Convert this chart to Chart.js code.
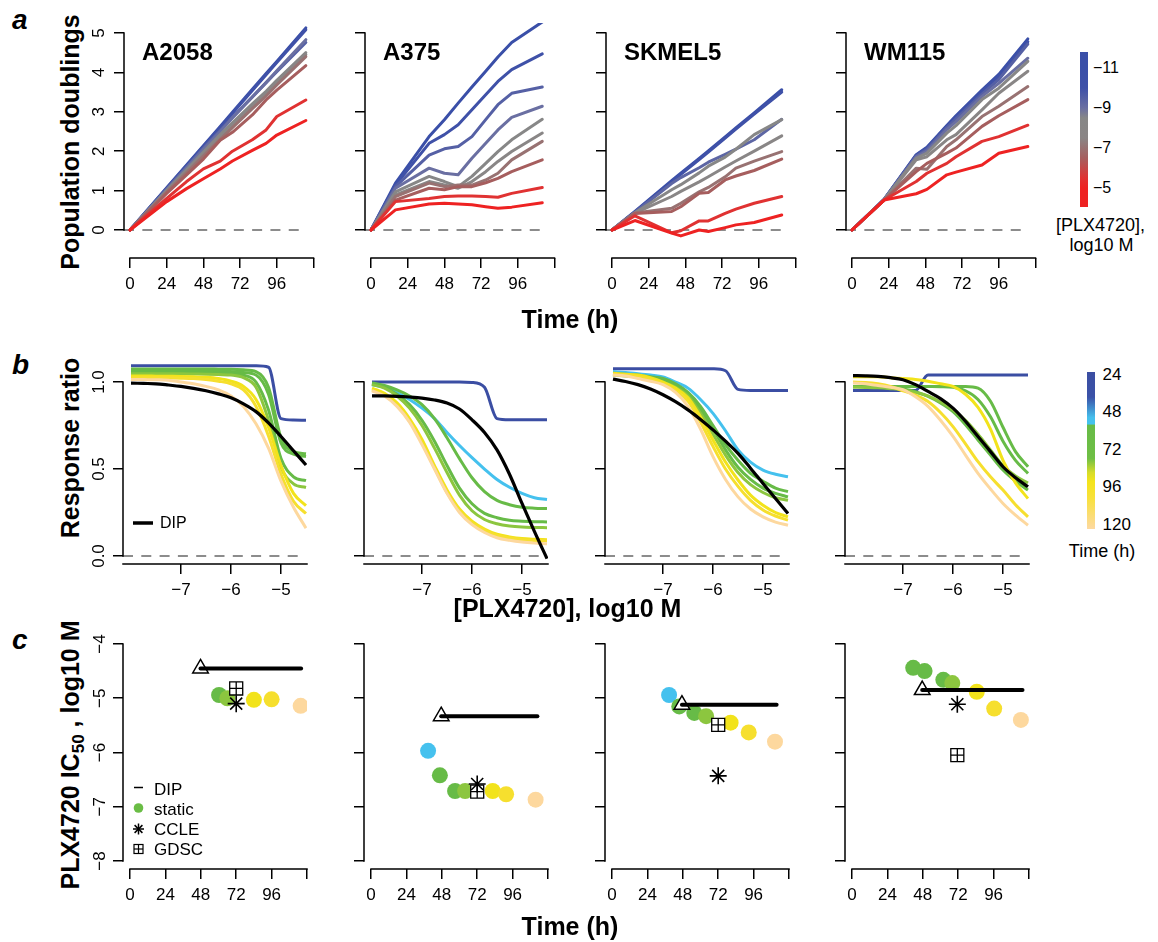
<!DOCTYPE html>
<html><head><meta charset="utf-8"><title>PLX4720 response</title>
<script src="https://cdn.jsdelivr.net/npm/chart.js@4.4.1/dist/chart.umd.min.js"></script>
<style>
html,body{margin:0;padding:0;background:#fff;}
body{width:1158px;height:942px;position:relative;overflow:hidden;font-family:"Liberation Sans",Arial,Helvetica,sans-serif;color:#000;}
canvas{position:absolute;}
.t{position:absolute;white-space:nowrap;line-height:1;color:#000;}
.bar{position:absolute;}
svg.ov{position:absolute;left:0;top:0;}
</style></head><body>
<script>
// ================= DATA =================
const cellLines = ['A2058', 'A375', 'SKMEL5', 'WM115'];

// ---- a: population doublings vs time, one line per PLX4720 concentration (log10 M)
const timeA2058 = [0, 24, 37, 48, 59, 67, 80, 89, 96, 115];
const concA2058 = [-11, -10, -9.5, -9, -8.5, -8, -7, -6.5, -5.5, -5];
const pdA2058 = [
  [0, 1.07, 1.65, 2.14, 2.63, 2.99, 3.57, 3.97, 4.28, 5.13],
  [0, 1.06, 1.63, 2.12, 2.60, 2.96, 3.54, 3.94, 4.25, 5.08],
  [0, 1.04, 1.60, 2.08, 2.53, 2.86, 3.38, 3.74, 4.02, 4.76],
  [0, 1.03, 1.58, 2.05, 2.50, 2.84, 3.37, 3.74, 4.04, 4.83],
  [0, 1.00, 1.53, 1.98, 2.42, 2.72, 3.20, 3.52, 3.80, 4.50],
  [0, 0.98, 1.50, 1.94, 2.38, 2.66, 3.14, 3.46, 3.75, 4.45],
  [0, 0.96, 1.46, 1.88, 2.30, 2.60, 3.08, 3.40, 3.68, 4.40],
  [0, 0.93, 1.40, 1.80, 2.28, 2.48, 2.92, 3.30, 3.55, 4.17],
  [0, 0.80, 1.23, 1.55, 1.75, 2.00, 2.29, 2.54, 2.88, 3.30],
  [0, 0.72, 1.05, 1.30, 1.55, 1.75, 2.02, 2.20, 2.41, 2.78]
];
const timeA375 = [0, 16, 38, 48, 57, 66, 75, 83, 92, 112];
const concA375 = [-11, -10, -9.5, -9, -8.5, -8, -7, -6.5, -5.5, -5];
const pdA375 = [
  [0, 1.19, 2.37, 2.80, 3.22, 3.63, 4.03, 4.39, 4.76, 5.28],
  [0, 1.14, 2.20, 2.42, 2.67, 3.05, 3.43, 3.77, 4.07, 4.47],
  [0, 1.10, 1.90, 2.06, 2.12, 2.37, 2.80, 3.18, 3.47, 3.63],
  [0, 1.06, 1.57, 1.44, 1.40, 1.82, 2.20, 2.54, 2.86, 3.14],
  [0, 0.97, 1.36, 1.23, 1.10, 1.36, 1.69, 1.99, 2.29, 2.81],
  [0, 0.89, 1.23, 1.14, 1.06, 1.23, 1.48, 1.74, 1.99, 2.46],
  [0, 0.85, 1.19, 1.10, 1.14, 1.14, 1.27, 1.44, 1.78, 2.25],
  [0, 0.76, 1.06, 1.02, 1.10, 1.10, 1.20, 1.31, 1.48, 1.78],
  [0, 0.72, 0.80, 0.85, 0.86, 0.86, 0.85, 0.83, 0.93, 1.08],
  [0, 0.51, 0.66, 0.68, 0.66, 0.64, 0.59, 0.55, 0.58, 0.69]
];
const timeSKMEL5 = [0, 15, 39, 45, 57, 63, 74, 81, 93, 111];
const concSKMEL5 = [-11, -10, -9.3, -8.5, -8, -7, -6.5, -5.5, -5];
const pdSKMEL5 = [
  [0, 0.47, 1.25, 1.44, 1.82, 2.01, 2.36, 2.59, 2.97, 3.56],
  [0, 0.46, 1.22, 1.41, 1.79, 1.98, 2.33, 2.56, 2.94, 3.50],
  [0, 0.45, 1.18, 1.33, 1.58, 1.72, 1.92, 2.05, 2.29, 2.81],
  [0, 0.44, 1.02, 1.15, 1.45, 1.62, 1.85, 2.05, 2.42, 2.80],
  [0, 0.43, 0.85, 0.98, 1.22, 1.35, 1.60, 1.75, 2.00, 2.39],
  [0, 0.43, 0.55, 0.68, 0.97, 1.08, 1.35, 1.57, 1.75, 1.99],
  [0, 0.42, 0.47, 0.59, 0.93, 0.95, 1.27, 1.37, 1.51, 1.80],
  [0, 0.36, -0.07, -0.02, 0.23, 0.23, 0.42, 0.53, 0.68, 0.85],
  [0, 0.24, -0.08, -0.15, 0.00, -0.04, 0.06, 0.13, 0.19, 0.38]
];
const timeWM115 = [0, 21, 42, 49, 62, 68, 85, 96, 115];
const concWM115 = [-11, -10, -9.5, -9, -8.5, -8, -7, -6.5, -5.5, -5];
const pdWM115 = [
  [0, 0.78, 1.91, 2.10, 2.65, 2.90, 3.55, 3.95, 4.85],
  [0, 0.78, 1.90, 2.08, 2.63, 2.88, 3.52, 3.90, 4.78],
  [0, 0.77, 1.88, 2.05, 2.60, 2.82, 3.45, 3.82, 4.72],
  [0, 0.77, 1.86, 2.00, 2.55, 2.75, 3.39, 3.72, 4.36],
  [0, 0.77, 1.82, 1.95, 2.46, 2.65, 3.31, 3.60, 4.28],
  [0, 0.76, 1.78, 1.86, 2.29, 2.42, 3.05, 3.47, 4.03],
  [0, 0.76, 1.57, 1.54, 2.12, 2.29, 2.88, 3.14, 3.64],
  [0, 0.76, 1.48, 1.69, 1.95, 2.08, 2.63, 2.90, 3.31],
  [0, 0.76, 1.23, 1.44, 1.69, 1.86, 2.25, 2.37, 2.66],
  [0, 0.76, 0.92, 1.03, 1.40, 1.47, 1.65, 1.95, 2.12]
];
const timeTicks = [0, 24, 48, 72, 96, 120];
const timeTickLabels = ['0', '24', '48', '72', '96', ''];
const pdTicks = [0, 1, 2, 3, 4, 5];
const pdTickLabels = ['0', '1', '2', '3', '4', '5'];

// ---- b: response ratio vs dose (log10 M), one curve per time point, plus DIP
const doseGrid = [-8, -7.75, -7.5, -7.25, -7, -6.75, -6.5, -6.25, -6, -5.75, -5.5, -5.25, -5, -4.75, -4.5];
const rrA2058 = [
  [1.094,1.094,1.094,1.094,1.094,1.094,1.094,1.094,1.094,1.094,1.093,1.085,0.790,0.782,0.780],
  [1.075,1.075,1.075,1.075,1.075,1.075,1.075,1.074,1.073,1.070,1.060,0.970,0.680,0.600,0.588],
  [1.065,1.065,1.065,1.065,1.065,1.065,1.064,1.063,1.060,1.055,1.040,0.930,0.650,0.585,0.572],
  [1.058,1.058,1.058,1.057,1.057,1.056,1.055,1.053,1.050,1.040,1.000,0.840,0.560,0.455,0.433],
  [1.048,1.048,1.048,1.047,1.047,1.046,1.045,1.043,1.040,1.025,0.970,0.780,0.510,0.415,0.394],
  [1.035,1.035,1.034,1.033,1.032,1.030,1.027,1.020,1.005,0.975,0.900,0.740,0.520,0.360,0.290],
  [1.025,1.025,1.024,1.023,1.022,1.020,1.015,1.005,0.990,0.955,0.860,0.690,0.470,0.315,0.244],
  [1.015,1.014,1.013,1.011,1.000,0.990,0.975,0.955,0.920,0.860,0.760,0.620,0.430,0.280,0.160]
];
const dipA2058 = [0.994,0.992,0.990,0.983,0.975,0.964,0.950,0.932,0.910,0.875,0.830,0.765,0.687,0.605,0.523];
const rrA375 = [
  [1.000,1.000,1.000,1.000,1.000,1.000,1.000,1.000,0.998,0.970,0.790,0.783,0.783,0.783,0.783],
  [0.985,0.970,0.940,0.900,0.850,0.790,0.710,0.635,0.565,0.500,0.440,0.395,0.360,0.335,0.325],
  [0.995,0.980,0.955,0.920,0.870,0.790,0.680,0.560,0.450,0.370,0.320,0.295,0.280,0.275,0.273],
  [0.990,0.970,0.930,0.870,0.780,0.660,0.520,0.390,0.300,0.245,0.220,0.205,0.200,0.197,0.196],
  [0.985,0.965,0.920,0.850,0.750,0.620,0.480,0.350,0.260,0.210,0.185,0.172,0.166,0.164,0.163],
  [0.965,0.935,0.880,0.790,0.670,0.520,0.380,0.270,0.200,0.155,0.125,0.110,0.100,0.096,0.094],
  [0.955,0.925,0.865,0.775,0.650,0.505,0.365,0.260,0.190,0.148,0.118,0.103,0.094,0.089,0.087],
  [0.950,0.920,0.860,0.770,0.640,0.500,0.360,0.250,0.180,0.135,0.105,0.090,0.080,0.074,0.070]
];
const dipA375 = [0.921,0.920,0.918,0.914,0.908,0.897,0.879,0.845,0.783,0.710,0.610,0.470,0.302,0.140,-0.015];
const rrSKMEL5 = [
  [1.077,1.077,1.077,1.077,1.077,1.077,1.077,1.077,1.076,1.065,0.958,0.952,0.952,0.952,0.952],
  [1.060,1.055,1.048,1.040,1.030,1.000,0.965,0.900,0.820,0.720,0.610,0.540,0.494,0.470,0.456],
  [1.050,1.045,1.040,1.030,1.020,0.990,0.940,0.860,0.750,0.640,0.550,0.475,0.430,0.390,0.370],
  [1.045,1.040,1.035,1.025,1.010,0.980,0.930,0.840,0.730,0.610,0.510,0.440,0.390,0.360,0.340],
  [1.040,1.035,1.030,1.020,1.000,0.970,0.920,0.820,0.700,0.580,0.480,0.410,0.365,0.335,0.320],
  [1.050,1.045,1.040,1.025,1.000,0.965,0.910,0.800,0.667,0.540,0.437,0.350,0.292,0.250,0.225],
  [1.045,1.040,1.030,1.015,0.990,0.950,0.890,0.770,0.630,0.500,0.400,0.320,0.265,0.230,0.206],
  [1.040,1.035,1.020,1.005,0.985,0.940,0.860,0.730,0.571,0.440,0.340,0.270,0.225,0.195,0.177]
];
const dipSKMEL5 = [1.017,1.003,0.985,0.960,0.927,0.887,0.840,0.785,0.725,0.660,0.590,0.505,0.417,0.330,0.244];
const rrWM115 = [
  [0.952,0.952,0.952,0.952,0.952,0.952,1.040,1.040,1.040,1.040,1.040,1.040,1.040,1.040,1.040],
  [0.975,0.975,0.975,0.975,0.975,0.975,0.975,0.975,0.975,0.975,0.965,0.890,0.740,0.600,0.513],
  [0.975,0.975,0.975,0.975,0.975,0.975,0.974,0.973,0.970,0.950,0.900,0.800,0.660,0.550,0.475],
  [0.975,0.974,0.972,0.967,0.960,0.945,0.917,0.880,0.830,0.755,0.667,0.580,0.494,0.430,0.379],
  [0.970,0.969,0.967,0.962,0.955,0.940,0.920,0.885,0.840,0.780,0.700,0.610,0.520,0.460,0.420],
  [1.030,1.030,1.030,1.025,1.020,1.015,1.005,0.990,0.975,0.930,0.855,0.730,0.550,0.420,0.330],
  [1.000,0.998,0.990,0.975,0.950,0.925,0.888,0.825,0.744,0.645,0.542,0.455,0.379,0.295,0.225],
  [0.994,0.990,0.980,0.970,0.956,0.915,0.860,0.780,0.687,0.580,0.475,0.385,0.302,0.235,0.177]
];
const dipWM115 = [1.037,1.036,1.033,1.025,1.013,0.985,0.946,0.905,0.850,0.775,0.687,0.600,0.513,0.450,0.398];
const doseTicks = [-7, -6, -5];
const doseTickLabels = ['\u22127', '\u22126', '\u22125'];
const rrTicks = [0, 0.5, 1];
const rrTickLabels = ['0.0', '0.5', '1.0'];

// ---- c: IC50 (log10 M) vs time
const staticTimeA2058 = [60.4, 66, 84, 96, 115.7];
const staticIc50A2058 = [-4.94, -5.00, -5.03, -5.02, -5.14];
const staticTimeA375 = [38.7, 46.7, 57, 63.8, 82.5, 91.6, 111.6];
const staticIc50A375 = [-5.97, -6.42, -6.71, -6.71, -6.71, -6.77, -6.87];
const staticTimeSKMEL5 = [38.7, 45.6, 55.8, 63.8, 80.4, 92.7, 110.5];
const staticIc50SKMEL5 = [-4.94, -5.15, -5.27, -5.33, -5.45, -5.63, -5.80];
const staticTimeWM115 = [41.5, 49.2, 61.9, 68, 84.6, 96.4, 114.5];
const staticIc50WM115 = [-4.44, -4.50, -4.66, -4.72, -4.88, -5.19, -5.40];
const dipIc50 = [-4.45, -5.33, -5.12, -4.85];
const dipStartTime = [47.8, 47.6, 47.4, 47.6];
const dipEndTime = [116, 112.8, 111.6, 115.6];
const ccleTime = [72, 72, 72, 71.4];
const ccleIc50 = [-5.10, -6.58, -6.43, -5.11];
const gdscTime = [72, 72, 72, 71.4];
const gdscIc50 = [-4.82, -6.72, -5.49, -6.05];
const ic50Ticks = [-8, -7, -6, -5, -4];
const ic50TickLabels = ['\u22128', '\u22127', '\u22126', '\u22125', '\u22124'];

// ================= STYLE =================
const FONT = '"Liberation Sans", Arial, Helvetica, sans-serif';
Chart.defaults.font.family = FONT;
Chart.defaults.color = '#000';
const colX = [0, 241, 482, 722];
const C = {db:'#3b4ea3', lb:'#45c1ee', g1:'#67bb47', g2:'#8cc63f', y1:'#f2e31b', y2:'#f6df2e', pe:'#fdd89e'};
const rrColors = [
  [C.db, C.g1, C.g1, C.g1, C.g2, C.y1, C.y2, C.pe],
  [C.db, C.lb, C.g1, C.g1, C.g2, C.y1, C.y2, C.pe],
  [C.db, C.lb, C.g1, C.g1, C.g2, C.y1, C.y2, C.pe],
  [C.db, C.g1, C.g1, C.g1, C.g2, C.y1, C.y2, C.pe]
];
const staticColors = [
  [C.g1, C.g2, C.y1, C.y2, C.pe],
  [C.lb, C.g1, C.g1, C.g2, C.y1, C.y2, C.pe],
  [C.lb, C.g1, C.g1, C.g2, C.y1, C.y2, C.pe],
  [C.g1, C.g1, C.g1, C.g2, C.y1, C.y2, C.pe]
];
const concStops = [[-11,'#3a4fa8'],[-10,'#3f51a8'],[-9,'#6a6fa2'],[-8.5,'#878787'],[-7.5,'#8a8585'],[-6.5,'#a65e5e'],[-5.5,'#e03232'],[-5,'#ee2222']];

function rgb(h){return [parseInt(h.slice(1,3),16),parseInt(h.slice(3,5),16),parseInt(h.slice(5,7),16)];}
function ramp(stops, v){
  if (v <= stops[0][0]) return stops[0][1];
  for (let i = 1; i < stops.length; i++) {
    if (v <= stops[i][0]) {
      const f = (v - stops[i-1][0]) / (stops[i][0] - stops[i-1][0]);
      const a = rgb(stops[i-1][1]), b = rgb(stops[i][1]);
      return 'rgb(' + a.map((x, j) => Math.round(x + (b[j] - x) * f)).join(',') + ')';
    }
  }
  return stops[stops.length-1][1];
}

const rAxes = {
  id: 'rAxes',
  afterDraw(chart, args, opts) {
    const ctx = chart.ctx, a = chart.chartArea, xs = chart.scales.x, ys = chart.scales.y;
    ctx.save(); ctx.strokeStyle = '#000'; ctx.lineWidth = 1.5;
    ctx.beginPath();
    const x0 = opts.xFull ? a.left : xs.getPixelForValue(xs.ticks[0].value);
    const x1 = opts.xFull ? a.right : xs.getPixelForValue(xs.ticks[xs.ticks.length-1].value);
    ctx.moveTo(x0 - 0.75, a.bottom); ctx.lineTo(x1 + 0.75, a.bottom);
    ctx.moveTo(a.left, ys.getPixelForValue(ys.ticks[0].value) + 0.75);
    ctx.lineTo(a.left, ys.getPixelForValue(ys.ticks[ys.ticks.length-1].value) - 0.75);
    ctx.stroke(); ctx.restore();
  }
};
const gridOpt = {display:true, drawOnChartArea:false, drawTicks:true, tickLength:10, color:'#000', lineWidth:1.5};
function xAxis(min, max, ticks, labels, height){
  return {type:'linear', position:'bottom', min, max, bounds:'data',
    afterBuildTicks: s => { s.ticks = ticks.map(v => ({value:v})); },
    afterFit: s => { s.height = height; },
    ticks:{autoSkip:false, maxRotation:0, minRotation:0, padding:6, color:'#000', font:{family:FONT, size:17}, callback:(v,i)=>labels[i]},
    grid:gridOpt, border:{display:false}};
}
function yAxis(min, max, ticks, labels, width, pad){
  return {type:'linear', position:'left', min, max, bounds:'data',
    afterBuildTicks: s => { s.ticks = ticks.map(v => ({value:v})); },
    afterFit: s => { s.width = width; },
    ticks:{autoSkip:false, minRotation:90, maxRotation:90, crossAlign:'center', padding:pad, color:'#000', font:{family:FONT, size:17}, callback:(v,i)=>labels[i]},
    grid:gridOpt, border:{display:false}};
}
function mount(left, top, w, h){
  const c = document.createElement('canvas');
  c.width = w; c.height = h;
  c.style.left = left + 'px'; c.style.top = top + 'px'; c.style.width = w + 'px'; c.style.height = h + 'px';
  document.body.appendChild(c); return c;
}
function opts(scales, padding, xFull){
  return {responsive:false, maintainAspectRatio:false, animation:false, devicePixelRatio:1, events:[],
    layout:{autoPadding:false, padding}, plugins:{legend:{display:false}, tooltip:{enabled:false}, rAxes:{xFull}}, scales};
}
const pts = (xs, ys) => xs.map((x, i) => ({x, y: ys[i]}));
const noLabels = arr => arr.map(() => '');

// ================= ROW a =================
const growth = [
  {t:timeA2058, pd:pdA2058, conc:concA2058},
  {t:timeA375, pd:pdA375, conc:concA375},
  {t:timeSKMEL5, pd:pdSKMEL5, conc:concSKMEL5},
  {t:timeWM115, pd:pdWM115, conc:concWM115}
];
growth.forEach((g, k) => {
  const ds = [];
  for (let i = g.pd.length - 1; i >= 0; i--) {
    ds.push({data: pts(g.t, g.pd[i]), borderColor: ramp(concStops, g.conc[i]), borderWidth:3, pointRadius:0,
      borderCapStyle:'round', borderJoinStyle:'round', tension:0});
  }
  ds.push({data: pts([-3.9, g.t[g.t.length-1]], [0, 0]), borderColor:'#8c8c8c', borderWidth:2, borderDash:[10, 8.3], pointRadius:0});
  new Chart(mount(colX[k] + 89, 0, 240, 310), {type:'line', data:{datasets:ds},
    options: opts({x: xAxis(-3.92, 120, timeTicks, timeTickLabels, 52),
                   y: yAxis(-0.711, 5.254, pdTicks, k === 0 ? pdTickLabels : noLabels(pdTicks), 35, 10.3)},
                  {left:0, right:15.5, top:23, bottom:0}, false),
    plugins:[rAxes]});
});

// ================= ROW b =================
const resp = [
  {rr:rrA2058, dip:dipA2058}, {rr:rrA375, dip:dipA375}, {rr:rrSKMEL5, dip:dipSKMEL5}, {rr:rrWM115, dip:dipWM115}
];
resp.forEach((r, k) => {
  const ds = [{data: pts(doseGrid, r.dip), borderColor:'#000', borderWidth:3.2, pointRadius:0, cubicInterpolationMode:'monotone'}];
  for (let i = r.rr.length - 1; i >= 0; i--) {
    ds.push({data: pts(doseGrid, r.rr[i]), borderColor: rrColors[k][i], borderWidth:3, pointRadius:0, cubicInterpolationMode:'monotone'});
  }
  ds.push({data: pts([-8.16, -4.5], [0, 0]), borderColor:'#8c8c8c', borderWidth:2, borderDash:[10, 8.3], pointRadius:0});
  new Chart(mount(colX[k] + 89, 330, 240, 274), {type:'line', data:{datasets:ds},
    options: opts({x: xAxis(-8.16, -4.48, doseTicks, doseTickLabels, 40),
                   y: yAxis(-0.046, 1.121, rrTicks, k === 0 ? rrTickLabels : noLabels(rrTicks), 34, 2.2)},
                  {left:0, right:22, top:31, bottom:0}, true),
    plugins:[rAxes]});
});

// ================= ROW c =================
const ic = [
  {t:staticTimeA2058, v:staticIc50A2058}, {t:staticTimeA375, v:staticIc50A375},
  {t:staticTimeSKMEL5, v:staticIc50SKMEL5}, {t:staticTimeWM115, v:staticIc50WM115}
];
ic.forEach((s, k) => {
  const ds = [
    {data: pts([dipStartTime[k], dipEndTime[k]], [dipIc50[k], dipIc50[k]]), borderColor:'#000', borderWidth:4, pointRadius:0, borderCapStyle:'round'},
    {data: pts([dipStartTime[k]], [dipIc50[k]]), showLine:false, pointStyle:'triangle', pointRadius:9, pointBackgroundColor:'#fff', pointBorderColor:'#000', pointBorderWidth:1.5},
    {data: pts([ccleTime[k]], [ccleIc50[k]]), showLine:false, pointStyle:'star', pointRadius:8.5, pointBorderColor:'#000', pointBorderWidth:1.6},
    {data: pts([gdscTime[k]], [gdscIc50[k]]), showLine:false, pointStyle:'cross', pointRadius:6.5, pointBorderColor:'#000', pointBorderWidth:1.3},
    {data: pts([gdscTime[k]], [gdscIc50[k]]), showLine:false, pointStyle:'rect', pointRadius:9.2, pointBackgroundColor:'#fff', pointBorderColor:'#000', pointBorderWidth:1.3},
    {data: pts(s.t, s.v), showLine:false, pointStyle:'circle', pointRadius:8, pointBorderWidth:0, pointBackgroundColor: staticColors[k]}
  ];
  new Chart(mount(colX[k] + 89, 606, 240, 314), {type:'line', data:{datasets:ds},
    options: opts({x: xAxis(-4.75, 120, timeTicks, timeTickLabels, 51),
                   y: yAxis(-8.147, -3.853, ic50Ticks, k === 0 ? ic50TickLabels : noLabels(ic50Ticks), 34, 3.3)},
                  {left:0, right:22, top:30, bottom:0}, false),
    plugins:[rAxes]});
});

// ================= TEXT =================
function text(str, x, base, size, o = {}){
  const d = document.createElement('div'); d.className = 't'; d.innerHTML = str;
  d.style.fontSize = size + 'px';
  if (o.bold) d.style.fontWeight = 'bold';
  if (o.italic) d.style.fontStyle = 'italic';
  if (o.rot) {
    d.style.left = (base - 0.3465 * size) + 'px';
    d.style.top = x + 'px';
    d.style.transform = 'translate(-50%,-50%) rotate(-90deg)';
  } else {
    d.style.top = (base - 0.8465 * size) + 'px';
    d.style.left = x + 'px';
    if (o.center) d.style.transform = 'translateX(-50%)';
  }
  document.body.appendChild(d);
}
text('a', 12, 30, 28, {bold:true, italic:true});
text('b', 12, 375, 28, {bold:true, italic:true});
text('c', 12, 650, 28, {bold:true, italic:true});
cellLines.forEach((n, k) => text(n, colX[k] + 142, 60, 24, {bold:true}));
text('Population doublings', 141.5, 78.5, 25, {bold:true, rot:true});
text('Time (h)', 570, 328, 25, {bold:true, center:true});
text('Response ratio', 447.5, 78.5, 25, {bold:true, rot:true});
text('[PLX4720], log10 M', 567.5, 617, 25, {bold:true, center:true});
text('PLX4720 IC<sub style="font-size:0.68em;vertical-align:-0.3em;line-height:0">50</sub> , log10 M', 755, 78.5, 25, {bold:true, rot:true});
text('Time (h)', 570, 935, 25, {bold:true, center:true});
// colorbar a
[['\u221211', 74], ['\u22129', 114], ['\u22127', 154], ['\u22125', 194]].forEach(([s, y]) => text(s, 1093, y, 16));
text('[PLX4720],', 1100.5, 231, 18, {center:true});
text('log10 M', 1101.5, 251, 18, {center:true});
// colorbar b
[['24', 380], ['48', 417], ['72', 455], ['96', 492], ['120', 530]].forEach(([s, y]) => text(s, 1102.5, y, 17));
text('Time (h)', 1102, 557, 18, {center:true});
// legends
text('DIP', 160, 529, 16);
[['DIP', 795], ['static', 815], ['CCLE', 835], ['GDSC', 855]].forEach(([s, y]) => text(s, 154, y, 17));

// colorbars
const cbA = document.createElement('div'); cbA.className = 'bar';
Object.assign(cbA.style, {left:'1080px', top:'52px', width:'8px', height:'155px'});
cbA.style.background = 'linear-gradient(' + concStops.map(([v, c]) => c + ' ' + ((v + 11.8) / 7.75 * 100).toFixed(1) + '%').join(',') + ')';
document.body.appendChild(cbA);
const cbB = document.createElement('div'); cbB.className = 'bar';
Object.assign(cbB.style, {left:'1087px', top:'372px', width:'8px', height:'157px',
  background:'linear-gradient(#3b4ea2 0%, #3b52a8 16%, #45bfec 29%, #45c2ee 33%, #67bb47 34%, #6fbf45 55%, #d6dc2a 64%, #f4e41b 70%, #f8e13a 80%, #fdd9a1 100%)'});
document.body.appendChild(cbB);

// legend glyphs
const svgNS = 'http://www.w3.org/2000/svg';
const svg = document.createElementNS(svgNS, 'svg');
svg.setAttribute('class', 'ov'); svg.setAttribute('width', '1158'); svg.setAttribute('height', '942');
svg.innerHTML = '<line x1="133" y1="523" x2="153" y2="523" stroke="#000" stroke-width="3.5"/>' +
  '<line x1="134" y1="787.5" x2="143" y2="787.5" stroke="#000" stroke-width="1.5"/>' +
  '<circle cx="138.5" cy="808" r="4.8" fill="#6abd45"/>' +
  '<g stroke="#000" stroke-width="1.5"><line x1="133" y1="829" x2="144" y2="829"/><line x1="138.5" y1="823.5" x2="138.5" y2="834.5"/>' +
  '<line x1="134.6" y1="825.1" x2="142.4" y2="832.9"/><line x1="134.6" y1="832.9" x2="142.4" y2="825.1"/></g>' +
  '<g stroke="#000" stroke-width="1.2" fill="none"><rect x="134" y="844.5" width="9" height="9"/><line x1="138.5" y1="844.5" x2="138.5" y2="853.5"/><line x1="134" y1="849" x2="143" y2="849"/></g>';
document.body.appendChild(svg);
</script>
</body></html>
